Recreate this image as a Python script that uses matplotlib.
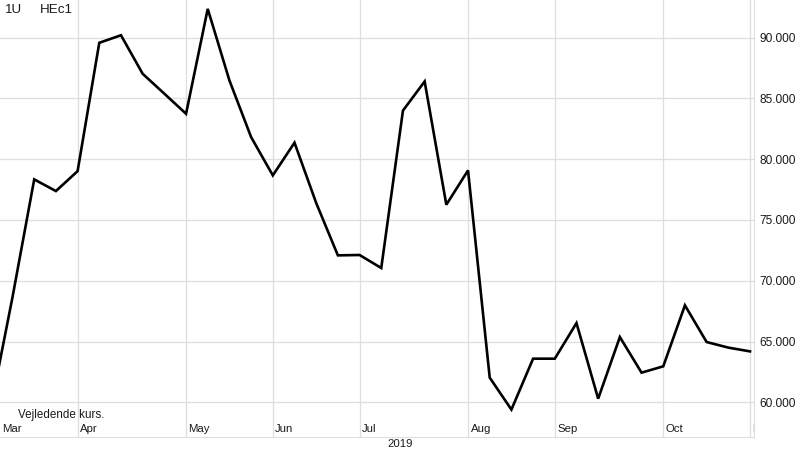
import numpy as np
import pandas as pd
import matplotlib
matplotlib.use("Agg")
import matplotlib.pyplot as plt
import matplotlib.dates as mdates
import matplotlib.transforms as mtransforms

plt.rcParams['font.family'] = ['Liberation Sans', 'DejaVu Sans']

# weekly prices (Mondays), 2019
prices = [59.6, 68.66, 78.34, 77.38,
          79.02, 89.58, 90.2, 87.03, 85.39,
          83.74, 92.37, 86.48, 81.82,
          78.67, 81.36, 76.4, 72.09,
          72.12, 71.05, 84.0, 86.4, 76.26,
          79.08, 62.03, 59.4, 63.59,
          63.59, 66.52, 60.3, 65.37, 62.44,
          62.96, 67.98, 64.96, 64.5,
          64.19]
dates = pd.date_range("2019-03-04", periods=len(prices), freq="7D")
month_names = ["Mar", "Apr", "May", "Jun", "Jul", "Aug", "Sep", "Oct", "Nov"]
y_ticks = [60, 65, 70, 75, 80, 85, 90]

grid_c = "#dedede"
txt_c = "#1a1a1a"
W, H = 800, 450
AW = 754  # plot area width in px

fig = plt.figure(figsize=(8, 4.5), dpi=100)
ax = fig.add_axes([0, 1 - 422 / H, AW / W, 422 / H])
band = fig.add_axes([0, 1 - 437 / H, AW / W, 15 / H], sharex=ax)

x = mdates.date2num(dates)
ax.plot(x, prices, color="black", lw=1.9, solid_joinstyle="miter", zorder=3)

# first data point of every month -> month gridlines
s = pd.Series(dates)
firsts = s.groupby(s.dt.month).first()
month_x = mdates.date2num(firsts.values)

step = x[1] - x[0]
px = step / 21.72  # one pixel in date units
ax.set_xlim(month_x[1] - 77.7 * px, x[-1] + 4 * px)
ax.set_ylim(58.38, 93.1)

ax.set_xticks(month_x[1:])
ax.tick_params(axis="x", length=0, labelbottom=False)
ax.grid(True, color=grid_c, lw=0.9)
ax.set_axisbelow(True)

ax.yaxis.tick_right()
ax.set_yticks(y_ticks)
ax.set_yticklabels([f"{v:.3f}" for v in y_ticks], fontsize=8.6, color=txt_c)
ax.tick_params(axis="y", length=0, pad=4)

for sp in ["top", "left"]:
    ax.spines[sp].set_visible(False)
for sp in ["bottom", "right"]:
    ax.spines[sp].set_color(grid_c)

ax.text(18 / AW, 7 / 422, "Vejledende kurs.", transform=ax.transAxes,
        fontsize=8.4, va="center", ha="left", color=txt_c)

# month label band
band.set_yticks([])
band.tick_params(axis="x", length=0, labelbottom=False)
for sp in ["top", "left"]:
    band.spines[sp].set_visible(False)
for sp in ["bottom", "right"]:
    band.spines[sp].set_color(grid_c)
for mx in month_x[1:]:
    band.axvline(mx, color=grid_c, lw=0.9)
band.text(2 / AW, 0.5, month_names[0], transform=band.transAxes,
          fontsize=8.2, va="center", ha="left", color=txt_c)
band_tr = mtransforms.blended_transform_factory(band.transData, band.transAxes)
for mx, name in zip(month_x[1:], month_names[1:]):
    band.text(mx + 2.5 * px, 0.5, name, fontsize=8.2, va="center", ha="left",
              color=txt_c, clip_on=True, transform=band_tr)

fig.text(400 / W, 1 - 444 / H, "2019", fontsize=8.2, ha="center", va="center", color=txt_c)
fig.text(5 / W, 1 - 10 / H, "1U", fontsize=9.6, ha="left", va="center", color=txt_c)
fig.text(40 / W, 1 - 10 / H, "HEc1", fontsize=9.6, ha="left", va="center", color=txt_c)

fig.savefig("out.png", dpi=100)
